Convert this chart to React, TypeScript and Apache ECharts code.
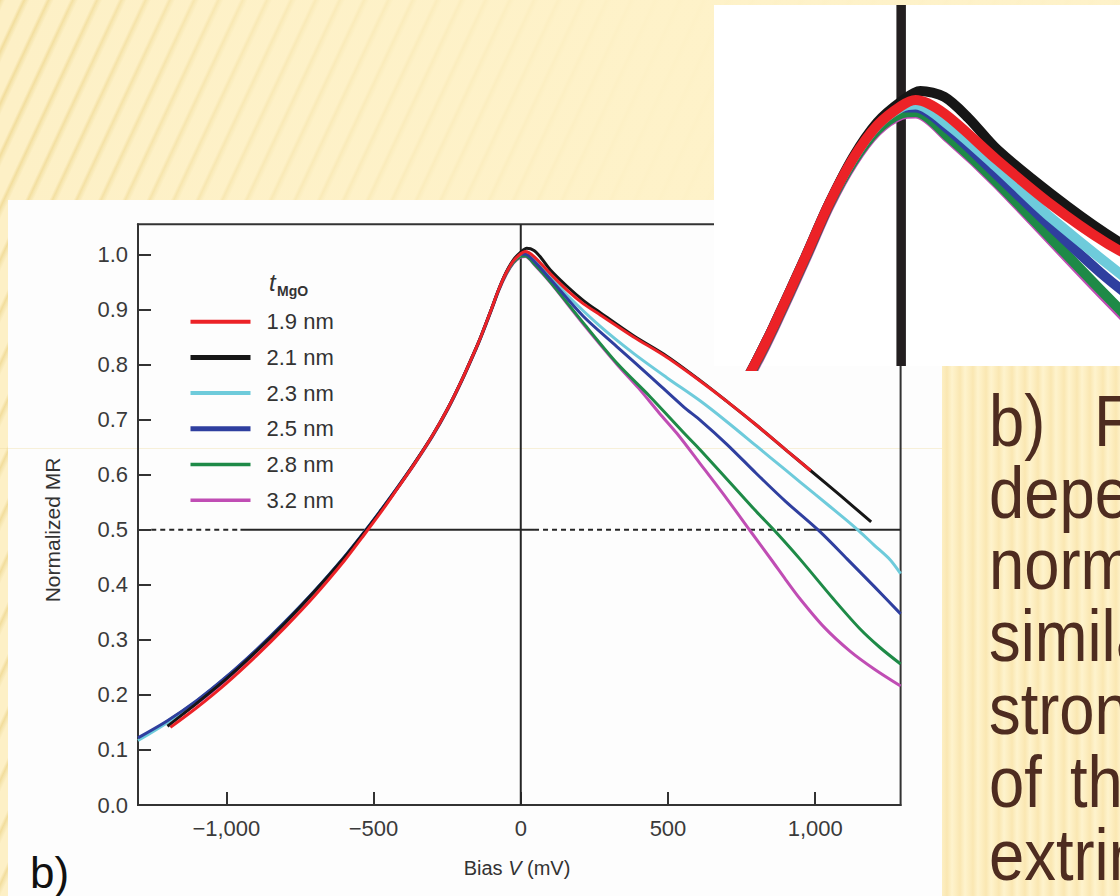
import { useEffect, useRef } from "react";
import * as echarts from "echarts";

const FONT = "'Liberation Sans', Arial, sans-serif";

const thicknessNames = ["1.9 nm", "2.1 nm", "2.3 nm", "2.5 nm", "2.8 nm", "3.2 nm"];
const thicknessColors = ["#EC2227", "#161616", "#6ECBDB", "#2F3F9F", "#1E8A47", "#C04DB4"];
const legendWidths = [4, 5, 4, 5, 3.5, 3.5];

// Normalized MR vs bias (mV)
const mr19 = [
  [-1190, 0.141], [-1100, 0.177], [-1000, 0.221], [-900, 0.27], [-800, 0.323], [-700, 0.38],
  [-600, 0.443], [-540, 0.485], [-480, 0.528], [-420, 0.574], [-362, 0.619], [-300, 0.671],
  [-248, 0.72], [-200, 0.772], [-150, 0.832], [-133, 0.854], [-100, 0.9], [-75, 0.936],
  [-50, 0.966], [-25, 0.988], [0, 1.001], [15, 1.005], [45, 0.996], [100, 0.965], [157, 0.935],
  [213, 0.91], [270, 0.89], [383, 0.85], [496, 0.813], [609, 0.77], [700, 0.733], [800, 0.69],
  [900, 0.645], [985, 0.607],
];
const mr21 = [
  [-1200, 0.143], [-1100, 0.185], [-1000, 0.229], [-900, 0.278], [-800, 0.331], [-700, 0.388],
  [-600, 0.449], [-540, 0.489], [-480, 0.531], [-420, 0.575], [-362, 0.62], [-300, 0.671],
  [-248, 0.72], [-200, 0.772], [-150, 0.832], [-133, 0.854], [-100, 0.9], [-75, 0.936],
  [-50, 0.967], [-25, 0.99], [0, 1.004], [20, 1.011], [45, 1.007], [70, 0.993], [100, 0.972],
  [157, 0.942], [213, 0.916], [270, 0.894], [383, 0.852], [496, 0.815], [609, 0.771],
  [700, 0.733], [800, 0.69], [900, 0.645], [985, 0.607], [1090, 0.56], [1190, 0.514],
];
const mr23 = [
  [-1300, 0.117], [-1200, 0.15], [-1100, 0.188], [-1000, 0.232], [-900, 0.28], [-800, 0.333],
  [-700, 0.389], [-600, 0.45], [-540, 0.49], [-480, 0.532], [-420, 0.576], [-362, 0.62],
  [-300, 0.671], [-248, 0.72], [-200, 0.772], [-150, 0.832], [-133, 0.854], [-100, 0.9],
  [-75, 0.936], [-50, 0.966], [-25, 0.988], [0, 1.0], [15, 1.002], [50, 0.988], [100, 0.96],
  [157, 0.926], [270, 0.869], [383, 0.82], [496, 0.776], [609, 0.734], [700, 0.696],
  [800, 0.652], [900, 0.608], [1000, 0.564], [1100, 0.52], [1150, 0.497], [1200, 0.472],
  [1255, 0.445], [1290, 0.42],
];
const mr25 = [
  [-1300, 0.122], [-1200, 0.153], [-1100, 0.19], [-1000, 0.233], [-900, 0.281], [-800, 0.333],
  [-700, 0.389], [-600, 0.45], [-540, 0.49], [-480, 0.532], [-420, 0.576], [-362, 0.62],
  [-300, 0.671], [-248, 0.72], [-200, 0.772], [-150, 0.832], [-133, 0.854], [-100, 0.9],
  [-75, 0.936], [-50, 0.966], [-25, 0.988], [0, 1.0], [15, 1.0], [50, 0.985], [100, 0.955],
  [213, 0.887], [327, 0.832], [440, 0.778], [553, 0.723], [609, 0.699], [700, 0.655],
  [800, 0.602], [900, 0.551], [1017, 0.496], [1108, 0.447], [1200, 0.397], [1290, 0.347],
];
const mr28 = [
  [-1250, 0.135], [-1200, 0.152], [-1100, 0.189], [-1000, 0.232], [-900, 0.28], [-800, 0.332],
  [-700, 0.388], [-600, 0.449], [-540, 0.489], [-480, 0.531], [-420, 0.575], [-362, 0.619],
  [-300, 0.67], [-248, 0.719], [-200, 0.771], [-150, 0.831], [-133, 0.853], [-100, 0.899],
  [-75, 0.935], [-50, 0.964], [-25, 0.985], [0, 0.996], [15, 0.997], [50, 0.98], [100, 0.95],
  [213, 0.875], [327, 0.802], [440, 0.741], [564, 0.67], [609, 0.645], [722, 0.579],
  [800, 0.533], [864, 0.497], [949, 0.446], [1062, 0.374], [1150, 0.321], [1220, 0.286],
  [1290, 0.256],
];
const mr32 = [
  [-1150, 0.165], [-1050, 0.205], [-950, 0.252], [-800, 0.33], [-700, 0.387], [-600, 0.448],
  [-540, 0.488], [-480, 0.53], [-420, 0.574], [-362, 0.618], [-300, 0.669], [-248, 0.718],
  [-200, 0.77], [-150, 0.83], [-133, 0.852], [-100, 0.898], [-75, 0.934], [-50, 0.963],
  [-25, 0.984], [0, 0.995], [15, 0.996], [50, 0.979], [100, 0.949], [213, 0.873], [327, 0.8],
  [400, 0.757], [470, 0.712], [530, 0.675], [609, 0.62], [700, 0.556], [779, 0.498],
  [853, 0.444], [900, 0.409], [949, 0.374], [1030, 0.323], [1119, 0.279], [1200, 0.247],
  [1290, 0.216],
];

const thicknessData = [mr19, mr21, mr23, mr25, mr28, mr32];
const drawOrder = [5, 4, 2, 3, 1, 0];
const insetOrder = [5, 4, 3, 2, 1, 0];

const xTicks = [-1000, -500, 0, 500, 1000];
const yTicks = [0, 0.1, 0.2, 0.3, 0.4, 0.5, 0.6, 0.7, 0.8, 0.9, 1.0];
const xRange = [-1300, 1290];
const yRange = [0, 1.0545];
const insetX = [-195, 228];
const insetY = [0.8277, 1.0683];

const halfDashedA = [[-1255, 0.5], [-952, 0.5]];
const halfSolidA = [[-952, 0.5], [45, 0.5]];
const halfDashedB = [[45, 0.5], [972, 0.5]];
const halfSolidB = [[972, 0.5], [1290, 0.5]];
const zeroBias = [[0, 0], [0, 1.0545]];
const insetZero = [[0, 0.8277], [0, 1.0683]];

const slideLines = [
  { text: "b)", x: 989, y: 421 },
  { text: "F", x: 1094, y: 421 },
  { text: "depe", x: 989, y: 493 },
  { text: "norm", x: 989, y: 564 },
  { text: "simila", x: 989, y: 636 },
  { text: "stron", x: 989, y: 709 },
  { text: "of", x: 989, y: 782 },
  { text: "th", x: 1070, y: 782 },
  { text: "extrin", x: 989, y: 855 },
];

function fmtX(v: number) {
  if (v === 0) return "0";
  const s = Math.abs(v).toLocaleString("en-US");
  return (v < 0 ? "\u2212" : "") + s;
}

export default function App() {
  const ref = useRef<HTMLDivElement>(null);
  useEffect(() => {
    if (!ref.current) return;
    const chart = echarts.init(ref.current, undefined, { renderer: "svg" });
    const series: any[] = [];
    drawOrder.forEach((i) => {
      series.push({
        name: thicknessNames[i],
        type: "line",
        data: thicknessData[i],
        symbol: "none",
        smooth: 0.3,
        z: 3,
        lineStyle: { color: thicknessColors[i], width: 3 },
        itemStyle: { color: thicknessColors[i] },
      });
    });
    const refLine = (data: number[][], type: any, z = 2) => ({
      type: "line",
      data,
      symbol: "none",
      silent: true,
      z,
      lineStyle: { color: "#262626", width: 2, type },
    });
    series.push(refLine(halfDashedA, [5, 4]));
    series.push(refLine(halfSolidA, "solid"));
    series.push(refLine(halfDashedB, [5, 4]));
    series.push(refLine(halfSolidB, "solid"));
    series.push(refLine(zeroBias, "solid"));
    // inset (magnified peak)
    series.push({
      type: "line",
      data: insetZero,
      xAxisIndex: 1,
      yAxisIndex: 1,
      symbol: "none",
      silent: true,
      z: 105,
      lineStyle: { color: "#231F20", width: 9.5 },
    });
    insetOrder.forEach((i) => {
      series.push({
        name: thicknessNames[i],
        type: "line",
        data: thicknessData[i],
        xAxisIndex: 1,
        yAxisIndex: 1,
        symbol: "none",
        smooth: 0.3,
        z: 110,
        lineStyle: { color: thicknessColors[i], width: 10 },
        itemStyle: { color: thicknessColors[i] },
      });
    });

    const graphics: any[] = [
      { type: "rect", z: -10, shape: { x: 8, y: 200, width: 934, height: 696 }, style: { fill: "#FDFDFD" } },
      { type: "line", z: -9, shape: { x1: 0, y1: 448.5, x2: 942, y2: 448.5 }, style: { stroke: "rgba(235,215,150,0.35)", lineWidth: 1 } },
      { type: "rect", z: 100, shape: { x: 714, y: 5, width: 406, height: 361 }, style: { fill: "#FFFFFF" } },
      {
        type: "text", z: 50, x: 52, y: 530, rotation: Math.PI / 2,
        style: { text: "Normalized MR", font: `21px ${FONT}`, fill: "#333", align: "center", verticalAlign: "middle" },
      },
      {
        type: "text", z: 50, x: 517, y: 868,
        style: {
          text: "{a|Bias }{b|V}{a| (mV)}", align: "center", verticalAlign: "middle",
          rich: {
            a: { fontFamily: FONT, fontSize: 20, fill: "#333" },
            b: { fontFamily: FONT, fontSize: 20, fontStyle: "italic", fill: "#333" },
          },
        },
      },
      { type: "text", z: 50, x: 269, y: 270, style: { text: "t", font: `italic 24px ${FONT}`, fill: "#333", verticalAlign: "top" } },
      { type: "text", z: 50, x: 277, y: 284, style: { text: "MgO", font: `bold 14px ${FONT}`, fill: "#333", verticalAlign: "top" } },
      { type: "text", z: 200, x: 30, y: 872, style: { text: "b)", font: `44px ${FONT}`, fill: "#111", verticalAlign: "middle" } },
      ...slideLines.map((l) => ({
        type: "text", z: 200, x: l.x, y: l.y, scaleX: 0.88,
        style: { text: l.text, font: `72px ${FONT}`, fill: "#4E2C20", verticalAlign: "middle" },
      })),
    ];

    chart.setOption({
      animation: false,
      graphic: graphics,
      legend: {
        orient: "vertical",
        left: 188,
        top: 310.7,
        padding: 0,
        itemWidth: 60,
        itemHeight: 14,
        itemGap: 13.7,
        selectedMode: false,
        itemStyle: { opacity: 0 },
        textStyle: { fontFamily: FONT, fontSize: 22, color: "#333", lineHeight: 20, padding: [0, 0, 0, 11] },
        data: thicknessNames.map((n, i) => ({ name: n, lineStyle: { width: legendWidths[i], color: thicknessColors[i] } })),
      },
      grid: [
        { left: 138, top: 224.3, right: 219.4, bottom: 91, show: true, borderColor: "#333", borderWidth: 2, backgroundColor: "transparent" },
        { left: 714, top: 5, width: 406, height: 361, show: false },
      ],
      xAxis: [
        {
          type: "value", gridIndex: 0, min: xRange[0], max: xRange[1],
          axisLine: { show: true, onZero: false, lineStyle: { color: "#333", width: 2 } },
          axisTick: { show: true, inside: true, length: 13, customValues: xTicks, lineStyle: { color: "#333", width: 2 } },
          axisLabel: { customValues: xTicks, formatter: fmtX, margin: 12, fontFamily: FONT, fontSize: 22, color: "#3a3a3a" },
          splitLine: { show: false },
        },
        { type: "value", gridIndex: 1, min: insetX[0], max: insetX[1], show: false, splitLine: { show: false } },
      ],
      yAxis: [
        {
          type: "value", gridIndex: 0, min: yRange[0], max: yRange[1],
          axisLine: { show: true, onZero: false, lineStyle: { color: "#333", width: 2 } },
          axisTick: { show: true, inside: true, length: 13, customValues: yTicks, lineStyle: { color: "#333", width: 2 } },
          axisLabel: { customValues: yTicks, formatter: (v: number) => v.toFixed(1), margin: 10, fontFamily: FONT, fontSize: 22, color: "#3a3a3a" },
          splitLine: { show: false },
        },
        { type: "value", gridIndex: 1, min: insetY[0], max: insetY[1], show: false, splitLine: { show: false } },
      ],
      series,
    });
    return () => chart.dispose();
  }, []);

  return (
    <div
      style={{
        position: "absolute", left: 0, top: 0, width: 1120, height: 896, overflow: "hidden",
        backgroundColor: "#FEF2C9",
        backgroundImage:
          "linear-gradient(90deg, rgba(254,242,201,0) 0px, rgba(254,242,201,0.55) 250px, rgba(254,242,201,0.95) 650px), repeating-linear-gradient(115deg, #F2DD9C 0px, #F6E6B0 2px, #FDF0C6 5px, #FDF0C6 19px, #F2DD9C 22px)",
      }}
    >
      <div
        style={{
          position: "absolute", left: 942, top: 366, width: 178, height: 530,
          backgroundImage: "repeating-linear-gradient(90deg, #FDEFC3 0px, #FAE7B2 5px, #FEF3CD 10px, #FDEFC3 13px)",
        }}
      />
      <div ref={ref} style={{ position: "absolute", left: 0, top: 0, width: 1120, height: 896 }} />
    </div>
  );
}
